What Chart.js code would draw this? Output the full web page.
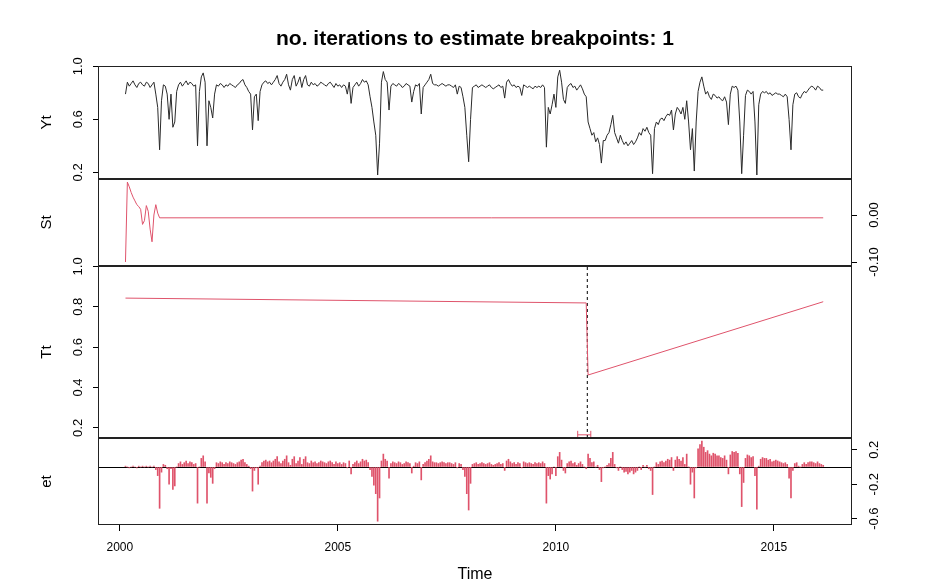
<!DOCTYPE html>
<html><head><meta charset="utf-8">
<script src="https://cdn.jsdelivr.net/npm/chart.js@4.4.0/dist/chart.umd.min.js"></script>
<style>
html,body{margin:0;padding:0;background:#fff;}
#wrap{position:relative;width:936px;height:587px;background:#fff;}
#wrap canvas{position:absolute;left:0;top:0;}
</style></head><body>
<div id="wrap">
<canvas id="pYt" width="936" height="587"></canvas>
<canvas id="pSt" width="936" height="587"></canvas>
<canvas id="pTt" width="936" height="587"></canvas>
<canvas id="pEt" width="936" height="587"></canvas>
</div>
<script>
// ---------------- data ----------------
const titleText = 'no. iterations to estimate breakpoints: 1';
const startYear = 2000.13;      // first observation
const frequency = 23;           // observations per year
const yearTicks = [2000, 2005, 2010, 2015];

// Yt : observed series (23 values per year)
const yt = [
  0.79,0.88,0.85,0.87,0.89,0.86,0.84,0.87,0.88,0.86,0.85,0.88,0.87,0.84,0.86,0.88,0.79,0.69,0.37,0.74,0.86,0.85,0.79,
  0.60,0.79,0.54,0.58,0.81,0.86,0.88,0.85,0.87,0.89,0.86,0.88,0.87,0.85,0.86,0.40,0.81,0.92,0.95,0.88,0.40,0.74,0.69,
  0.61,0.79,0.86,0.85,0.87,0.86,0.84,0.86,0.85,0.87,0.86,0.85,0.84,0.86,0.87,0.89,0.90,0.86,0.84,0.81,0.79,0.52,0.77,
  0.79,0.59,0.81,0.86,0.88,0.89,0.87,0.88,0.86,0.88,0.90,0.93,0.87,0.85,0.88,0.90,0.94,0.86,0.82,0.90,0.93,0.85,0.88,
  0.92,0.84,0.90,0.93,0.86,0.85,0.88,0.86,0.87,0.85,0.86,0.88,0.87,0.86,0.85,0.87,0.88,0.86,0.84,0.87,0.85,0.86,0.84,
  0.86,0.85,0.79,0.88,0.72,0.84,0.86,0.88,0.85,0.87,0.90,0.88,0.89,0.86,0.77,0.69,0.58,0.48,0.18,0.42,0.88,0.96,0.90,
  0.88,0.67,0.85,0.87,0.86,0.85,0.87,0.86,0.84,0.85,0.87,0.86,0.85,0.73,0.81,0.86,0.85,0.87,0.64,0.84,0.86,0.88,0.90,
  0.94,0.87,0.86,0.86,0.85,0.86,0.87,0.86,0.85,0.86,0.86,0.85,0.84,0.86,0.79,0.85,0.84,0.77,0.69,0.48,0.28,0.60,0.84,
  0.85,0.86,0.84,0.85,0.86,0.85,0.84,0.85,0.86,0.84,0.83,0.84,0.85,0.86,0.84,0.85,0.76,0.88,0.90,0.87,0.85,0.86,0.84,
  0.85,0.84,0.78,0.86,0.85,0.84,0.85,0.84,0.83,0.85,0.84,0.85,0.84,0.86,0.84,0.39,0.69,0.64,0.71,0.79,0.69,0.92,0.97,
  0.88,0.75,0.72,0.84,0.86,0.87,0.84,0.85,0.82,0.84,0.86,0.83,0.79,0.77,0.58,0.53,0.48,0.50,0.43,0.46,0.41,0.27,0.44,
  0.44,0.48,0.50,0.56,0.63,0.50,0.46,0.42,0.48,0.44,0.41,0.43,0.40,0.42,0.44,0.41,0.43,0.46,0.50,0.48,0.53,0.51,0.54,
  0.50,0.48,0.19,0.53,0.58,0.56,0.60,0.61,0.59,0.62,0.64,0.63,0.67,0.52,0.64,0.69,0.67,0.64,0.69,0.60,0.74,0.58,0.37,
  0.53,0.21,0.58,0.81,0.88,0.92,0.85,0.79,0.81,0.77,0.75,0.79,0.78,0.76,0.77,0.75,0.74,0.77,0.73,0.56,0.79,0.85,0.84,
  0.85,0.82,0.58,0.19,0.48,0.78,0.82,0.81,0.79,0.81,0.58,0.18,0.71,0.79,0.81,0.80,0.81,0.79,0.80,0.78,0.79,0.80,0.79,
  0.79,0.78,0.77,0.79,0.77,0.60,0.37,0.71,0.79,0.80,0.77,0.76,0.79,0.81,0.80,0.82,0.84,0.85,0.84,0.82,0.85,0.84,0.82,
  0.82
];

// St : seasonal component (observation index, value); flat after the first year
const stIndex = [0,1,2,3,4,5,6,7,8,9,10,11,12,13,14,15,16,17,18,368];
const stValue = [-0.100,0.070,0.060,0.048,0.038,0.030,0.022,0.018,0.012,-0.020,-0.012,0.020,0.008,-0.030,-0.057,0.000,0.022,0.004,-0.006,-0.006];

// Tt : piecewise linear trend (observation index, value)
const ttIndex = [0, 243, 244, 368];
const ttValue = [0.843, 0.819, 0.462, 0.825];

// breakpoint and its confidence interval (decimal years)
const breakpointYear = 2010.72;
const breakpointCI = [2010.50, 2010.80];

// et : remainder
const et = [
  0.01,0.00,-0.01,0.00,0.01,0.00,-0.01,0.01,0.00,0.01,0.00,0.01,0.00,0.01,0.00,0.01,-0.03,-0.10,-0.48,-0.06,0.03,0.02,-0.02,
  -0.20,-0.02,-0.26,-0.22,0.00,0.04,0.06,0.03,0.05,0.07,0.04,0.06,0.05,0.03,0.04,-0.42,0.00,0.10,0.13,0.06,-0.42,-0.07,-0.12,
  -0.19,-0.02,0.05,0.04,0.06,0.05,0.03,0.05,0.04,0.06,0.05,0.04,0.03,0.05,0.06,0.08,0.09,0.05,0.03,0.01,-0.02,-0.28,-0.04,
  -0.01,-0.20,0.01,0.05,0.07,0.08,0.06,0.07,0.05,0.07,0.09,0.12,0.06,0.04,0.07,0.09,0.13,0.05,0.02,0.09,0.12,0.04,0.07,
  0.11,0.03,0.09,0.12,0.05,0.04,0.07,0.05,0.06,0.04,0.05,0.07,0.06,0.05,0.04,0.06,0.07,0.05,0.03,0.06,0.04,0.05,0.03,
  0.05,0.04,-0.01,0.07,-0.08,0.03,0.05,0.07,0.04,0.06,0.09,0.07,0.08,0.05,-0.03,-0.11,-0.21,-0.31,-0.63,-0.36,0.07,0.15,0.09,
  0.07,-0.13,0.04,0.06,0.05,0.04,0.06,0.05,0.03,0.04,0.06,0.05,0.04,-0.07,0.01,0.05,0.04,0.06,-0.15,0.03,0.05,0.07,0.09,
  0.13,0.06,0.05,0.05,0.04,0.05,0.06,0.05,0.04,0.05,0.05,0.04,0.03,0.05,-0.01,0.04,0.03,-0.03,-0.11,-0.31,-0.50,-0.19,0.03,
  0.04,0.05,0.03,0.04,0.05,0.04,0.03,0.04,0.05,0.03,0.02,0.03,0.04,0.05,0.03,0.04,-0.04,0.07,0.09,0.06,0.04,0.05,0.03,
  0.05,0.04,-0.01,0.06,0.05,0.04,0.05,0.04,0.03,0.05,0.04,0.05,0.04,0.06,0.04,-0.42,-0.10,-0.14,-0.08,0.00,-0.10,0.12,0.17,
  0.08,-0.04,-0.07,0.04,0.06,0.07,0.04,0.05,0.02,0.04,0.06,0.03,0.00,-0.02,0.15,0.10,0.05,0.06,0.00,0.02,-0.03,-0.17,-0.01,
  0.00,0.02,0.04,0.10,0.17,0.03,-0.01,-0.04,0.00,-0.03,-0.06,-0.05,-0.08,-0.06,-0.04,-0.08,-0.06,-0.04,0.00,-0.03,0.02,0.00,0.02,
  -0.02,-0.04,-0.32,0.00,0.05,0.03,0.06,0.07,0.05,0.07,0.09,0.08,0.11,-0.04,0.08,0.12,0.09,0.07,0.11,0.03,0.15,0.00,-0.20,
  -0.06,-0.36,-0.01,0.21,0.26,0.30,0.23,0.17,0.19,0.15,0.13,0.16,0.15,0.13,0.13,0.11,0.10,0.13,0.08,-0.08,0.14,0.18,0.17,
  0.18,0.16,-0.08,-0.46,-0.18,0.10,0.14,0.13,0.11,0.12,-0.10,-0.49,0.01,0.09,0.11,0.10,0.10,0.08,0.09,0.06,0.07,0.08,0.07,
  0.06,0.05,0.04,0.05,0.03,-0.13,-0.36,-0.04,0.04,0.05,0.01,0.00,0.03,0.05,0.03,0.05,0.06,0.06,0.05,0.04,0.06,0.04,0.03,
  0.02
];

// axis ranges and tick values
const xRange = [1999.50, 2016.79];
const ytRange = [0.150, 1.002];
const stRange = [-0.1085, 0.0766];
const etRange = [-0.674, 0.337];
const ytTicks = [0.2, 0.6, 1.0];
const ttTicks = [0.2, 0.4, 0.6, 0.8, 1.0];
const stTicks = [-0.10, 0.00];
const etTicks = [-0.6, -0.2, 0.2];

// ---------------- drawing ----------------
const FONT = "'Liberation Sans', Arial, Helvetica, sans-serif";
Chart.defaults.font.family = FONT;
Chart.defaults.color = '#000';
const RED = '#DF536B';
const W = 936, H = 587;
const PANEL_L = 98, PANEL_R = 852;
const PAD_L = 14;
const AXIS_W_L = PANEL_L - PAD_L;   // 84
const AXIS_W_R = W - PANEL_R;       // 84
const panels = { Yt:[66,179], St:[179,266], Tt:[266,438], Et:[438,525] };

const time = i => startYear + i / frequency;

const framePlugin = {
  id: 'frame',
  afterDatasetsDraw(chart) {
    const a = chart.chartArea, c = chart.ctx;
    c.save();
    c.strokeStyle = '#222';
    c.lineWidth = 1;
    c.strokeRect(Math.round(a.left) + 0.5, Math.round(a.top) + 0.5,
                 Math.round(a.right - a.left) - 1, Math.round(a.bottom - a.top) - 1);
    c.restore();
  }
};

function xAxis(show) {
  return {
    type: 'linear', min: xRange[0], max: xRange[1], display: show, offset: false,
    afterBuildTicks: s => { s.ticks = yearTicks.map(v => ({ value: v })); },
    afterFit: s => { if (show) s.height = 62; },
    ticks: { autoSkip: false, maxRotation: 0, font: { size: 12 }, padding: 9, callback: v => String(v) },
    grid: { drawOnChartArea: false, drawTicks: true, tickLength: 6, color: '#000', offset: false },
    border: { display: false },
    title: { display: show, text: 'Time', font: { size: 16 }, padding: { top: 0, bottom: 3 } }
  };
}

function yAxis(side, range, ticks, digits, title, tickPad) {
  const labelled = ticks && ticks.length && digits !== null;
  return {
    type: 'linear', position: side, min: range[0], max: range[1],
    afterFit: s => { s.width = side === 'left' ? AXIS_W_L : AXIS_W_R; },
    afterBuildTicks: s => { s.ticks = (ticks || []).map(v => ({ value: v })); },
    ticks: {
      display: !!labelled, autoSkip: false, minRotation: 90, maxRotation: 90,
      crossAlign: 'center', padding: tickPad || 0, font: { size: 13 },
      callback: v => (digits === null ? '' : Number(v).toFixed(digits))
    },
    grid: { display: !!labelled, drawOnChartArea: false, drawTicks: true, tickLength: 5, color: '#000' },
    border: { display: false },
    title: title ? { display: true, text: title, font: { size: 15 }, padding: { top: 24, bottom: 0 } } : { display: false }
  };
}

function baseOptions(panel) {
  const [top, bottom] = panels[panel];
  return {
    responsive: false, animation: false, devicePixelRatio: 1,
    layout: { padding: { left: PAD_L, right: 0, top: top, bottom: H - bottom } },
    plugins: { legend: { display: false }, tooltip: { enabled: false }, title: { display: false } },
    elements: { point: { radius: 0 }, line: { tension: 0 } }
  };
}

// ---- Yt panel ----
{
  const opts = baseOptions('Yt');
  opts.layout.padding.top = 0;
  opts.plugins.title = {
    display: true, text: titleText, color: '#000',
    font: { size: 21, weight: 'bold', family: FONT },
    padding: { top: 27, bottom: 13.8 }
  };
  opts.scales = {
    x: xAxis(false),
    y: yAxis('left', ytRange, ytTicks, 1, 'Yt', 6),
    y2: yAxis('right', ytRange, [], null, null)
  };
  new Chart(document.getElementById('pYt'), {
    type: 'line',
    data: { datasets: [{
      data: yt.map((v, i) => ({ x: time(i), y: v })),
      borderColor: '#2a2a2a', borderWidth: 1, pointRadius: 0, yAxisID: 'y'
    }] },
    options: opts,
    plugins: [framePlugin]
  });
}

// ---- St panel ----
{
  const opts = baseOptions('St');
  opts.scales = {
    x: xAxis(false),
    y: yAxis('left', stRange, [], null, 'St'),
    y2: yAxis('right', stRange, stTicks, 2, null, 3)
  };
  new Chart(document.getElementById('pSt'), {
    type: 'line',
    data: { datasets: [{
      data: stIndex.map((k, j) => ({ x: time(k), y: stValue[j] })),
      borderColor: RED, borderWidth: 1, pointRadius: 0, yAxisID: 'y'
    }] },
    options: opts,
    plugins: [framePlugin]
  });
}

// ---- Tt panel ----
{
  const opts = baseOptions('Tt');
  opts.scales = {
    x: xAxis(false),
    y: yAxis('left', ytRange, ttTicks, 1, 'Tt', 6),
    y2: yAxis('right', ytRange, [], null, null)
  };
  const ciLevel = ytRange[0] + (ytRange[1] - ytRange[0]) / 1.08 * 0.02;
  new Chart(document.getElementById('pTt'), {
    type: 'line',
    data: { datasets: [
      { data: ttIndex.map((k, j) => ({ x: time(k), y: ttValue[j] })),
        borderColor: RED, borderWidth: 1, pointRadius: 0, yAxisID: 'y' },
      { data: [{ x: breakpointYear, y: ytRange[0] }, { x: breakpointYear, y: ytRange[1] }],
        borderColor: '#000', borderWidth: 1, borderDash: [3, 3], pointRadius: 0, yAxisID: 'y' },
      { data: breakpointCI.map(v => ({ x: v, y: ciLevel })),
        borderColor: RED, borderWidth: 1, yAxisID: 'y',
        pointStyle: 'line', pointRotation: 90, pointRadius: 4, pointBorderColor: RED, pointBorderWidth: 1 }
    ] },
    options: opts,
    plugins: [framePlugin]
  });
}

// ---- et panel ----
{
  const opts = baseOptions('Et');
  opts.layout.padding.bottom = 0;
  const yLeft = yAxis('left', etRange, [0], null, 'et');
  yLeft.grid = { display: true, drawOnChartArea: true, drawTicks: false, color: '#000', lineWidth: 1 };
  yLeft.ticks.display = false;
  opts.scales = {
    x: xAxis(true),
    y: yLeft,
    y2: yAxis('right', etRange, etTicks, 1, null, 6)
  };
  new Chart(document.getElementById('pEt'), {
    type: 'bar',
    data: { datasets: [{
      data: et.map((v, i) => ({ x: time(i), y: v })),
      backgroundColor: RED, borderWidth: 0, barThickness: 1, grouped: false, yAxisID: 'y'
    }] },
    options: opts,
    plugins: [framePlugin]
  });
}
</script>
</body></html>
